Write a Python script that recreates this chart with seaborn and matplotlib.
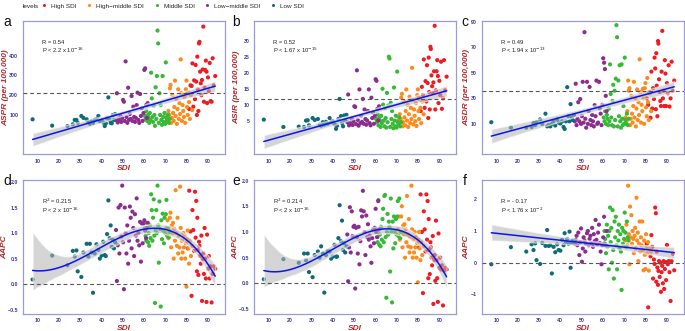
import numpy as np
import pandas as pd
import matplotlib
matplotlib.use("Agg")
import matplotlib.pyplot as plt
import seaborn as sns
from matplotlib.lines import Line2D

sns.set_style("white")
plt.rcParams["font.family"] = ["Liberation Sans", "DejaVu Sans"]

levels = ["High SDI", "High\u2212middle SDI", "Middle SDI", "Low\u2212middle SDI", "Low SDI"]
colors = ["#F01A22", "#FF8A1C", "#36B936", "#8C2C8E", "#0F6A7A"]

# ---- SDI per level (shared across panels) ----
sdi_low = [7.6, 16.8, 24, 26.5, 27.4, 28.2, 28.8, 30.5, 31.5, 33, 33.8, 34.5, 35.3, 36, 36.8,
           37.6, 38.5, 39.2, 40, 40.8, 41.5, 42, 42.6, 43.2, 43.8, 44.3, 44.8, 45.3, 45.8, 46.4]
sdi_lowmid = [46.8, 47.2, 47.6, 48.0, 48.4, 48.9, 49.3, 49.7, 50.1, 50.5, 50.9, 51.3, 51.7, 52.1,
              52.5, 52.9, 53.3, 53.7, 54.1, 54.5, 54.9, 55.3, 55.7, 56.1, 56.5, 56.9, 57.3, 57.7,
              58.1, 58.5, 58.9, 59.3, 59.7, 60.1, 60.5, 60.9, 61.3, 61.7]
sdi_mid = [60.3, 60.7, 61.0, 61.4, 61.8, 62.1, 62.4, 62.7, 63.0, 63.3, 63.6, 63.9, 64.2, 64.5,
           64.8, 65.1, 65.4, 65.7, 66.0, 66.3, 66.6, 66.9, 67.2, 67.5, 67.8, 68.1, 68.4, 68.7,
           69.0, 69.3, 69.6, 69.9, 70.2, 70.5, 70.8, 71.2, 71.6, 72.0]
sdi_highmid = [70.5, 71.0, 71.4, 71.8, 72.1, 72.4, 72.7, 73.0, 73.3, 73.6, 73.9, 74.2, 74.5, 74.8,
               75.1, 75.4, 75.7, 76.0, 76.3, 76.6, 76.9, 77.2, 77.5, 77.8, 78.1, 78.4, 78.7, 79.0,
               79.3, 79.6, 79.9, 80.2, 80.5, 80.8, 81.1, 81.5, 82.0, 82.6]
sdi_high = [80.5, 81.2, 81.8, 82.3, 82.7, 83.1, 83.5, 83.9, 84.2, 84.5, 84.8, 85.0, 85.2, 85.5,
            85.8, 86.0, 86.3, 86.6, 86.9, 87.2, 87.5, 87.8, 88.1, 88.4, 88.7, 89.0, 89.3, 89.6,
            90.0, 90.4, 90.8, 91.2, 91.7, 92.2, 92.8, 93.4]

# ---- a: ASPR ----
aspr_low = [78, 46, 44, 53, 75, 75, 60, 95, 85, 78, 65, 55, 70, 60, 75, 78, 95, 68, 72, 62, 44,
            58, 83, 189, 75, 60, 58, 100, 75, 105]
aspr_lowmid = [75, 210, 62, 80, 70, 95, 65, 85, 176, 167, 70, 371, 90, 60, 238, 75, 105, 80, 196,
               70, 142, 90, 65, 85, 150, 213, 75, 60, 206, 95, 134, 70, 110, 328, 336, 150, 85, 160]
aspr_mid = [95, 80, 120, 70, 100, 85, 60, 110, 75, 314, 184, 90, 65, 146, 100, 45, 240, 80, 297,
            527, 462, 60, 210, 100, 150, 75, 50, 297, 90, 65, 110, 55, 366, 85, 70, 100, 60, 80]
aspr_highmid = [90, 75, 120, 100, 235, 252, 60, 85, 200, 110, 70, 140, 274, 95, 180, 55, 130, 230,
                80, 160, 105, 381, 210, 70, 150, 120, 90, 190, 60, 230, 274, 140, 100, 215, 165,
                80, 200, 125]
aspr_high = [210, 130, 250, 247, 361, 142, 275, 180, 353, 269, 100, 395, 230, 120, 462, 470, 319,
             260, 200, 277, 330, 547, 167, 240, 328, 375, 319, 160, 290, 220, 363, 170, 167, 387,
             250, 297]

# ---- b: ASIR ----
asir_low = [5.3, 3, 3.1, 3, 5, 5.1, 3.5, 5.8, 5.2, 5.5, 3.7, 3.4, 4.5, 3.7, 4.6, 4, 5.8, 4.5, 4.8,
            3.8, 2.4, 3.4, 5.5, 11.8, 6.4, 4.2, 3.2, 6.6, 5, 6.8]
asir_lowmid = [4.5, 13.2, 3.5, 4.2, 4.0, 5.5, 3.6, 4.8, 9.5, 9.3, 3.9, 20.8, 5.2, 3.4, 14.8, 4.2,
               6.5, 4.6, 11.8, 4.0, 8.5, 5.5, 3.7, 5.0, 8.0, 14.8, 4.2, 3.5, 12.2, 5.8, 7.5, 4.0,
               6.5, 18.0, 17.5, 8.7, 5.0, 9.5]
asir_mid = [5.5, 4.5, 7.0, 3.5, 6.0, 5.0, 3.0, 6.5, 4.2, 15.0, 10.0, 5.0, 3.2, 9.0, 5.8, 2.8, 13.7,
            4.5, 9.7, 25.1, 24.5, 3.0, 10.6, 5.5, 8.0, 4.0, 2.6, 15.4, 5.0, 3.2, 6.5, 2.8, 20.4,
            4.5, 3.6, 6.0, 3.2, 4.5]
asir_highmid = [5, 4, 7, 5.5, 12.2, 13.4, 3.2, 4.5, 11, 6, 3.5, 8, 14.8, 5, 10, 3, 7, 12.5, 4.2, 9,
                5.5, 21.6, 11.5, 3.8, 8.5, 6.5, 4.8, 10.5, 3.3, 13, 14.8, 8, 5.5, 12, 9, 4.2, 11, 7]
asir_high = [12, 8, 15.6, 13, 24.2, 9, 17.4, 11, 22.4, 16.8, 5.8, 24.8, 14, 8.5, 28.2, 27.5, 19.2,
             15.8, 13.7, 17, 20.5, 34.8, 8.5, 14.5, 20.5, 24, 19, 10.5, 17.5, 13, 23.5, 8.7, 12, 24,
             14.5, 18.8]

# ---- c: ASDR ----
asdr_low = [11.3, 7, 7, 7.5, 10.8, 9, 11.3, 13.5, 10, 18, 8, 9, 8, 10, 12, 8.7, 13.5, 11, 10.3, 12,
            7.6, 6, 12, 38.8, 16, 12, 25.5, 15, 13, 17]
asdr_lowmid = [12, 41.5, 9, 14, 27, 12, 29.5, 10, 16, 43, 11, 82, 14, 7, 43, 10, 20, 39, 13, 9, 17,
               12, 8, 24.7, 16, 44, 10, 11, 43, 22, 18, 9, 25, 61.5, 58, 53, 32, 20]
asdr_mid = [15, 12, 20, 10, 17, 14, 9, 22, 12, 56.7, 33.5, 15, 9, 28, 40.7, 8, 36, 13, 45.5, 87.5,
            78, 8, 44, 16, 56, 12, 7, 56.7, 14, 9, 24, 10, 62, 13, 10, 18, 9, 14]
asdr_highmid = [15, 12, 20, 44, 36, 38, 9, 14, 32, 18, 11, 24, 43, 15, 30, 8, 22, 37, 13, 27, 17,
                60.7, 35, 11, 25, 20, 37.5, 30, 10, 38, 42, 23, 16, 46, 27, 13, 34, 20]
asdr_high = [30, 25, 35, 14.8, 51, 22, 38, 29.5, 62, 53.5, 21.5, 65.5, 40, 16, 75, 73, 45, 35, 28,
             24, 51, 83, 30, 36, 24, 60, 49.5, 24, 42, 34, 56, 23.6, 30, 58.8, 36, 44]

# ---- d: AAPC ----
aapcd_low = [0.09, 0.56, 0.37, 0.65, 0.54, 0.66, 0.25, 0.14, 0.62, 0.79, 0.54, 0.79, 0.62, -0.17,
             0.6, 0.78, 0.67, 0.5, 0.56, 0.83, 0.57, 0.55, 0.98, 1.64, 0.9, 1.15, 0.73, 0.87, 0.7,
             0.82]
aapcd_lowmid = [1.06, 0.06, 0.76, 1.5, 0.6, 1.55, 0.93, 1.93, 0.82, -0.1, 1.5, 1.0, 0.6, 1.15, 0.4,
                0.85, 1.52, 1.3, 0.7, 1.42, 1.1, 0.55, 1.37, 0.95, 1.68, 0.85, 1.0, 0.76, 1.22,
                0.44, 1.19, 0.8, 1.18, 1.25, 1.05, 0.9, 1.1, 1.2]
aapcd_mid = [1.09, 0.95, 0.85, 1.2, 0.82, 1.0, 0.75, 1.15, 0.9, 1.76, 1.45, 0.85, 1.3, 1.66, 0.95,
             -0.37, 1.05, 1.45, 1.0, 1.93, 1.15, 0.42, 1.62, 1.08, -0.44, 1.25, 0.88, 1.38, 1.05,
             0.8, 1.3, 1.0, 1.37, 1.65, 0.95, 1.1, 0.92, 1.02]
aapcd_highmid = [1.1, 1.25, 0.9, 1.05, 1.3, 1.4, 0.72, 1.15, 1.0, 1.2, 0.5, 1.08, 0.85, 1.84, 1.0,
                 0.75, 1.3, 0.6, 0.95, 0.72, 1.91, 1.1, 0.5, 0.85, 0.62, 1.0, 0.72, 0.95, 0.5, 0.8,
                 -0.05, 0.88, 1.05, 0.7, 0.4, 0.85, 0.55, 0.75]
aapcd_high = [0.7, 1.83, 1.03, -0.23, 1.45, 1.06, 0.65, 1.81, 0.91, 1.63, 0.25, 1.3, 0.67, 0.18,
              0.83, 0.75, 0.55, 0.4, 0.95, -0.33, 0.49, 0.6, 0.2, 1.1, 0.5, 0.11, -0.35, 0.97, 0.3,
              0.55, 0.11, 0.35, -0.36, 0.2, 0.35, 0.3]

# ---- e: AAPC ----
aapce_low = [0.08, 0.47, 0.40, 0.58, 0.45, 0.58, 0.22, 0.12, 0.55, 0.62, 0.50, 0.72, 0.58, -0.18,
             0.55, 0.62, 0.62, 0.48, 0.52, 0.75, 0.52, 0.52, 0.88, 1.52, 0.82, 1.22, 0.65, 0.78,
             0.6, 0.72]
aapce_lowmid = [0.95, 0.04, 0.7, 1.48, 0.6, 1.4, 0.92, 1.1, 1.12, -0.1, 1.08, 0.9, 0.58, 1.1, 0.37,
                0.82, 1.42, 1.3, 1.8, 1.4, 1.0, 0.55, 1.32, 0.9, 1.15, 0.85, 0.93, 0.72, 0.4, 0.88,
                1.05, 0.78, 1.08, 1.45, 1.0, 0.9, 1.6, 1.05]
aapce_mid = [1.0, 0.9, 0.8, 1.62, 0.75, 0.95, 0.72, 1.1, 0.85, 1.25, 1.45, 0.8, 1.7, 1.72, 0.9,
             -0.28, 1.0, 1.35, 0.95, 1.2, 1.1, 0.23, 1.65, 1.0, -0.37, 1.2, 0.68, 1.3, 1.0, 0.78,
             1.25, 0.95, 1.3, 1.6, 0.92, 1.65, 0.88, 1.0]
aapce_highmid = [1.05, 1.3, 0.85, 1.0, 1.3, 1.5, 0.7, 1.12, 0.95, 1.15, 0.5, 1.05, 0.8, 1.7, 0.95,
                 0.72, 1.25, 0.6, 0.9, 0.7, 1.9, 1.05, 0.5, 0.85, 0.6, 1.0, 0.7, 0.9, 0.5, 0.78,
                 0.02, 0.85, 1.0, 0.68, 0.45, 0.8, 0.55, 0.72]
aapce_high = [0.7, 1.73, 1.0, -0.19, 1.4, 1.05, 0.62, 1.73, 0.85, 1.6, 0.1, 1.25, 0.65, 0.18, 0.8,
              0.7, 0.5, 0.35, 0.92, -0.4, 0.45, 0.55, 0.05, 1.22, 0.45, 0.1, -0.36, 0.97, 0.3, 0.5,
              0.27, 0.35, -0.43, 0.25, 0.3, 0.27]

# ---- f: AAPC ----
aapcf_low = [-0.05, 0.49, 0.35, 0.58, 0.4, 0.61, 0.08, -0.04, 0.62, 0.53, 1.03, 0.53, 0.55, -0.34,
             0.5, 0.33, 0.58, 0.4, 0.38, 0.72, 0.55, 0.93, 0.65, 0.75, 0.6, 0.98, -0.16, 0.62, 0.7,
             0.65]
aapcf_lowmid = [0.6, 0.72, 0.85, 0.55, 0.95, 0.24, 0.65, 1.08, 0.03, 0.45, 0.8, 0.7, 0.35, 0.6,
                0.93, 1.0, 0.55, 0.75, 0.85, 0.62, 1.1, 0.5, 0.9, 0.68, 1.35, 0.72, 0.58, 0.95,
                1.2, 0.62, 0.35, -0.05, 0.55, 0.8, 1.45, 0.6, 0.55, 1.0]
aapcf_mid = [0.6, 1.0, 0.75, 0.3, 1.2, 0.5, 0.85, -0.21, 1.0, 1.74, 0.65, 1.1, 0.0, 1.66, 0.4, -0.5,
             1.3, 0.8, 1.45, 0.55, -0.21, 1.0, 0.7, 1.2, 0.45, 0.9, 0.35, -0.86, 1.1, 0.6, 1.0,
             0.75, 1.58, 0.95, 0.5, 1.3, 0.8, 0.7]
aapcf_highmid = [0.7, 1.2, 0.55, 2.43, 0.9, -0.05, 1.77, 0.8, 1.5, 0.6, 1.0, 0.75, 0.3, 0.85, 1.1,
                 0.45, 2.05, 0.7, 0.95, 0.05, 0.6, 1.3, 0.35, 0.8, 0.55, 1.3, 0.4, -0.24, 0.7, 0.25,
                 -0.2, 0.9, 0.5, 0.3, 0.65, -0.25, 0.45, 0.35]
aapcf_high = [0.6, -1.41, 0.45, 0.2, 0.87, 0.5, -0.5, 0.1, -0.04, 1.74, 1.56, -0.6, 0.35, -0.15,
              -0.7, -0.26, 0.05, -0.45, 0.0, -0.92, -0.3, -0.1, -0.65, 0.05, -0.83, -0.2, 0.02,
              -0.55, 0.56, -0.05, 0.05, -0.3, -1.21, 0.05, 0.28, -0.24]

sdi_by_level = [sdi_high, sdi_highmid, sdi_mid, sdi_lowmid, sdi_low]
metrics = {
    "aspr": [aspr_high, aspr_highmid, aspr_mid, aspr_lowmid, aspr_low],
    "asir": [asir_high, asir_highmid, asir_mid, asir_lowmid, asir_low],
    "asdr": [asdr_high, asdr_highmid, asdr_mid, asdr_lowmid, asdr_low],
    "aapcd": [aapcd_high, aapcd_highmid, aapcd_mid, aapcd_lowmid, aapcd_low],
    "aapce": [aapce_high, aapce_highmid, aapce_mid, aapce_lowmid, aapce_low],
    "aapcf": [aapcf_high, aapcf_highmid, aapcf_mid, aapcf_lowmid, aapcf_low],
}

rows = []
for li, lev in enumerate(levels):
    for i, s in enumerate(sdi_by_level[li]):
        r = {"levels": lev, "SDI": s}
        for k, v in metrics.items():
            r[k] = v[li][i]
        rows.append(r)
df = pd.DataFrame(rows)

W, H = 685, 331
fig = plt.figure(figsize=(W / 100, H / 100), dpi=100)

LAB = "#B2282E"
TICK = "#3A3A9A"
SPINE = "#9A9AD8"

def rect(l, t, r, b):
    return [l / W, 1 - b / H, (r - l) / W, (b - t) / H]

panels = [
    ("aspr", "ASPR (per 100,000)", (-99, 577), [100, 200, 300, 400], None, 210,
     ["R = 0.54", r"P < 2.2 x 10$^{-16}$"], 1, rect(22.8, 20.7, 225, 154.3), "a", (3, 22), 9.5),
    ("asir", "ASIR (per 100,000)", (-5.6, 36.4), [5, 10, 15, 20, 25, 30], None, 11.9,
     ["R = 0.52", r"P < 1.67 x 10$^{-15}$"], 1, rect(254, 20.7, 456.4, 154.3), "b", (232, 22), 240.5),
    ("asdr", "ASDR (per 100,000)", (-13.9, 91), [10, 30, 50, 70, 90], None, 35.5,
     ["R = 0.49", r"P < 1.94 x 10$^{-13}$"], 1, rect(481.5, 20.7, 684, 154.3), "c", (461, 22), 470.5),
    ("aapcd", "AAPC", (-0.58, 2.04), [-0.5, 0, 0.5, 1, 1.5, 2],
     ["\u22120.5", "0.0", "0.5", "1.0", "1.5", "2.0"], 0,
     [r"R$^{2}$ = 0.215", r"P < 2 x 10$^{-16}$"], 3, rect(22.8, 180, 225, 313.7), "d", (3, 181), 8.5),
    ("aapce", "AAPC", (-0.59, 2.01), [-0.5, 0, 0.5, 1, 1.5, 2],
     ["\u22120.5", "0.0", "0.5", "1.0", "1.5", "2.0"], 0,
     [r"R$^{2}$ = 0.214", r"P < 2 x 10$^{-16}$"], 3, rect(254, 180, 456.4, 313.7), "e", (232, 181), 239),
    ("aapcf", "AAPC", (-1.61, 2.61), [-1, 0, 1, 2], ["\u22121", "0", "1", "2"], 0,
     ["R = - 0.17", r"P < 1.76 x 10$^{-2}$"], 1, rect(481.5, 180, 684, 313.7), "f", (463, 181), 470),
]

for key, ylab, ylim, yticks, yticklabels, hline, ann, order, r, letter, lpos, labx in panels:
    ax = fig.add_axes(r)
    sns.scatterplot(data=df, x="SDI", y=key, hue="levels", hue_order=levels, palette=colors,
                    s=9, linewidth=0, legend=False, ax=ax, zorder=2)
    sns.regplot(data=df, x="SDI", y=key, scatter=False, order=order, ci=95, seed=0,
                color="#0A14F0", line_kws={"lw": 1.1, "zorder": 4}, ax=ax)
    for coll in ax.collections[1:]:
        coll.set_facecolor("#B4B4B4")
        coll.set_alpha(0.55)
        coll.set_zorder(3)
    ax.axhline(hline, color="#555555", lw=0.8, ls=(0, (3.5, 2.5)), zorder=3.5)
    ax.set_xlim(3, 98)
    ax.set_ylim(*ylim)
    ax.set_xticks([10, 20, 30, 40, 50, 60, 70, 80, 90])
    ax.set_yticks(yticks)
    if yticklabels is not None:
        ax.set_yticklabels(yticklabels)
    ax.tick_params(axis="both", labelsize=3.8, colors=SPINE, labelcolor=TICK, length=1.8,
                   width=0.6, pad=1.5)
    for lab in ax.get_xticklabels() + ax.get_yticklabels():
        lab.set_fontweight("bold")
    for sp in ax.spines.values():
        sp.set_color(SPINE)
        sp.set_linewidth(0.9)
    ax.set_xlabel("SDI", fontsize=6, color=LAB, fontstyle="italic", fontweight="bold", labelpad=1)
    ax.set_ylabel(ylab, fontsize=6, color=LAB, fontstyle="italic", fontweight="bold")
    ax.yaxis.set_label_coords((labx - r[0] * W) / (r[2] * W), 0.5)
    ax.text(0.095, 0.84, ann[0], transform=ax.transAxes, fontsize=4.2, color="#222222",
            va="center")
    ax.text(0.095, 0.775, ann[1], transform=ax.transAxes, fontsize=4.2, color="#222222",
            va="center")
    fig.text(lpos[0] / W, 1 - lpos[1] / H, letter, fontsize=10, color="#111111",
             va="center", ha="left")

# legend at top
fig.text(23 / W, 1 - 6 / H, "levels", fontsize=4.6, color="#222222", va="center")
handles = [Line2D([0], [0], marker="o", linestyle="", markersize=2.2, markerfacecolor=c,
                  markeredgewidth=0) for c in colors]
fig.legend(handles, levels, loc="center left", bbox_to_anchor=(40 / W, 1 - 6 / H), ncol=5,
           frameon=False, fontsize=4.6, handlelength=1.2, handletextpad=0.5, columnspacing=1.4,
           borderaxespad=0, borderpad=0)

fig.savefig("out.png", dpi=100)
